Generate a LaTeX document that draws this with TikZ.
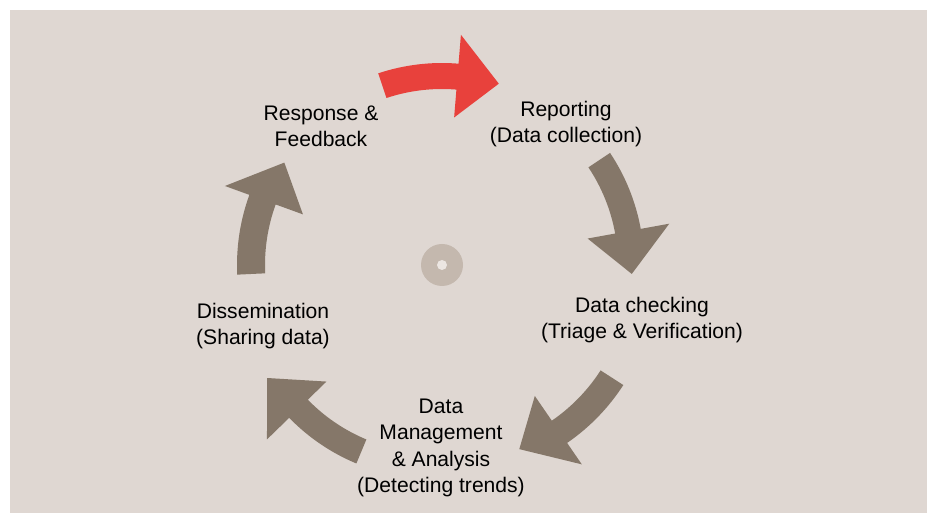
\documentclass[tikz,border=0pt]{standalone}
\usepackage{fontspec}
\setmainfont{Liberation Sans}
\usetikzlibrary{calc}

\definecolor{panelbg}{HTML}{DFD7D2}
\definecolor{arrowbrown}{HTML}{857769}
\definecolor{arrowred}{HTML}{E8413C}
\definecolor{hubgray}{HTML}{C4B8AE}
\definecolor{hubhole}{HTML}{ECE6E2}

\tikzset{
  stage/.style={align=center, font=\fontsize{12}{15}\selectfont, inner sep=0pt},
  bigarrow/.style={fill=arrowbrown},
}

\begin{document}
\begin{tikzpicture}[x=0.02cm, y=0.02cm]
  % Fix the canvas and the panel behind everything
  \useasboundingbox (0,0) rectangle (927,513);
  \fill[panelbg] (10,0) rectangle (927,503);

  % Centres the arrows curve around (the lower right ones sit a little off)
  \coordinate (hub) at (442,248);
  \coordinate (hub_lr) at (451,239);
  \coordinate (hub_ll) at (434,236);

  % Hub mark in the middle
  \fill[hubgray] (hub) circle (21);
  \fill[hubhole] (hub) circle (5);

  % Stage labels around the cycle
  \node (respond) [stage] at (321,387) {Response \&\\Feedback};
  \node (report) [stage] at (566,389) {Reporting\\(Data collection)};
  \node (check) [stage] at (642,193) {Data checking\\(Triage \& Verification)};
  \node (manage) [stage] at (441,65) {Data\\Management\\\& Analysis\\(Detecting trends)};
  \node (share) [stage] at (263,187) {Dissemination\\(Sharing data)};

  % Feedback -> Reporting (highlighted)
  \fill[arrowred] ($(hub)+(108.4:202)$) arc[start angle=108.4, end angle=85.3, radius=202]
    -- ($(hub)+(85.3:231)$) -- ($(hub)+(72.6:190)$) -- ($(hub)+(85.3:148)$)
    -- ($(hub)+(85.3:176)$) arc[start angle=85.3, end angle=108.4, radius=176] -- cycle;

  % Reporting -> Data checking
  \fill[bigarrow] ($(hub)+(33.7:202)$) arc[start angle=33.7, end angle=10.3, radius=202]
    -- ($(hub)+(10.3:231)$) -- ($(hub)+(-2.7:190)$) -- ($(hub)+(10.3:148)$)
    -- ($(hub)+(10.3:176)$) arc[start angle=10.3, end angle=33.7, radius=176] -- cycle;

  % Data checking -> Management
  \fill[bigarrow] ($(hub_lr)+(-32.8:205)$) arc[start angle=-32.8, end angle=-55.5, radius=205]
    -- ($(hub_lr)+(-55.5:231)$) -- ($(hub_lr)+(-68.7:188)$) -- ($(hub_lr)+(-55.5:148)$)
    -- ($(hub_lr)+(-55.5:178)$) arc[start angle=-55.5, end angle=-32.8, radius=178] -- cycle;

  % Management -> Dissemination
  \fill[bigarrow] ($(hub_ll)+(-112.6:202)$) arc[start angle=-112.6, end angle=-135.8, radius=202]
    -- ($(hub_ll)+(-135.8:233)$) -- ($(hub_ll)+(-148.8:195)$) -- ($(hub_ll)+(-135.8:150)$)
    -- ($(hub_ll)+(-135.8:176)$) arc[start angle=-135.8, end angle=-112.6, radius=176] -- cycle;

  % Dissemination -> Feedback
  \fill[bigarrow] ($(hub)+(182.7:205)$) arc[start angle=182.7, end angle=160, radius=205]
    -- ($(hub)+(160:231)$) -- ($(hub)+(147:188)$) -- ($(hub)+(160:148)$)
    -- ($(hub)+(160:177)$) arc[start angle=160, end angle=182.7, radius=177] -- cycle;
\end{tikzpicture}
\end{document}
